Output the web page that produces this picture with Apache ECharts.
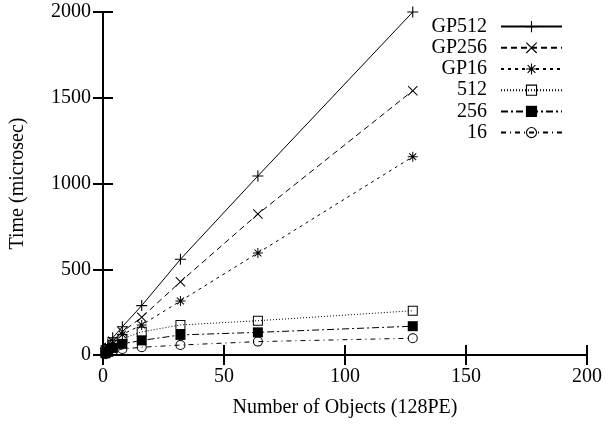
<!DOCTYPE html>
<html>
<head>
<meta charset="utf-8">
<script src="https://cdn.jsdelivr.net/npm/echarts@6/dist/echarts.min.js"></script>
<style>html,body{margin:0;padding:0;background:#fff;}#c{width:605px;height:425px;}</style>
</head>
<body>
<div id="c"></div>
<script>
var objects = [1, 2, 4, 8, 16, 32, 64, 128];
var gp512 = [40, 60, 100, 165, 288, 558, 1044, 2000];
var gp256 = [30, 45, 80, 135, 220, 427, 822, 1541];
var gp16  = [25, 38, 65, 120, 175, 315, 595, 1156];
var s512  = [20, 35, 60, 95, 135, 175, 200, 258];
var s256  = [10, 20, 40, 65, 85, 117, 132, 168];
var s16   = [5, 10, 20, 35, 45, 58, 78, 98];
var xTicks = [0, 50, 100, 150, 200];
var yTicks = [0, 500, 1000, 1500, 2000];

var FONT = '"Liberation Serif", "Times New Roman", serif';
var SYM = {
  plus: 'path://M0,4.5H10V5.5H0Z M4.5,0H5.5V10H4.5Z',
  cross: 'path://M0,0.7L0.7,0L10,9.3L9.3,10Z M9.3,0L10,0.7L0.7,10L0,9.3Z',
  star: 'path://M0,4.5H10V5.5H0Z M4.5,0H5.5V10H4.5Z M1.2,1.9L1.9,1.2L8.8,8.1L8.1,8.8Z M8.1,1.2L8.8,1.9L1.9,8.8L1.2,8.1Z',
  box: 'path://M0,0H10V10H0Z M1,1V9H9V1Z',
  fbox: 'path://M0,0H10V10H0Z',
  circ: 'path://M0,5A5,5,0,1,1,10,5A5,5,0,1,1,0,5Z M1,5A4,4,0,1,0,9,5A4,4,0,1,0,1,5Z'
};
function pairs(vals){ return objects.map(function(x,i){ return [x, vals[i]]; }); }
function mk(name, vals, sym, size, dash){
  return {
    name: name, type: 'line', data: pairs(vals),
    symbol: sym, symbolSize: size, showSymbol: true,
    lineStyle: {color: '#000', width: 1, type: dash},
    itemStyle: {color: '#000'},
    xAxisIndex: 0, yAxisIndex: 0, clip: false, z: 3
  };
}
function plain(v){ return String(v); }
var chart = echarts.init(document.getElementById('c'), null, {renderer: 'canvas'});
var axisCommon = {
  type: 'value',
  axisLine: {show: true, lineStyle: {color: '#000', width: 2}},
  axisTick: {show: true, inside: true, length: 10, lineStyle: {color: '#000', width: 2}},
  splitLine: {show: false}
};
chart.setOption({
  animation: false,
  backgroundColor: '#fff',
  textStyle: {fontFamily: FONT},
  grid: {left: 101, right: 17, top: 12, bottom: 70, containLabel: false},
  legend: {
    orient: 'vertical', right: 37, top: 11, align: 'right',
    itemWidth: 61, itemHeight: 14, itemGap: 0,
    selectedMode: false,
    textStyle: {fontFamily: FONT, fontSize: 20, color: '#000', lineHeight: 21.2, padding: [0, 9, 0, 0]},
    data: ['GP512', 'GP256', 'GP16', '512', '256', '16']
  },
  xAxis: [
    Object.assign({}, axisCommon, {
      position: 'bottom', min: xTicks[0], max: xTicks[xTicks.length-1], interval: 50,
      name: 'Number of Objects (128PE)', nameLocation: 'middle', nameGap: 43,
      nameTextStyle: {fontFamily: FONT, fontSize: 20, color: '#000'},
      axisLabel: {fontFamily: FONT, fontSize: 20, color: '#000', margin: 12, formatter: plain}
    }),
    Object.assign({}, axisCommon, {
      position: 'top', min: xTicks[0], max: xTicks[xTicks.length-1], interval: 50,
      axisLabel: {show: false}
    })
  ],
  yAxis: [
    Object.assign({}, axisCommon, {
      position: 'left', min: yTicks[0], max: yTicks[yTicks.length-1], interval: 500,
      name: 'Time (microsec)', nameLocation: 'middle', nameGap: 75,
      nameTextStyle: {fontFamily: FONT, fontSize: 20, color: '#000'},
      axisLabel: {fontFamily: FONT, fontSize: 20, color: '#000', margin: 12, formatter: plain}
    }),
    Object.assign({}, axisCommon, {
      position: 'right', min: yTicks[0], max: yTicks[yTicks.length-1], interval: 500,
      axisLabel: {show: false}
    })
  ],
  series: [
    mk('GP512', gp512, SYM.plus, 11, 'solid'),
    mk('GP256', gp256, SYM.cross, 10, [6, 4]),
    mk('GP16', gp16, SYM.star, 10, [3, 4]),
    mk('512', s512, SYM.box, 10, [1, 2]),
    mk('256', s256, SYM.fbox, 10, [7, 3, 2, 3]),
    mk('16', s16, SYM.circ, 10, [5, 4, 1, 4])
  ]
});
</script>
</body>
</html>
